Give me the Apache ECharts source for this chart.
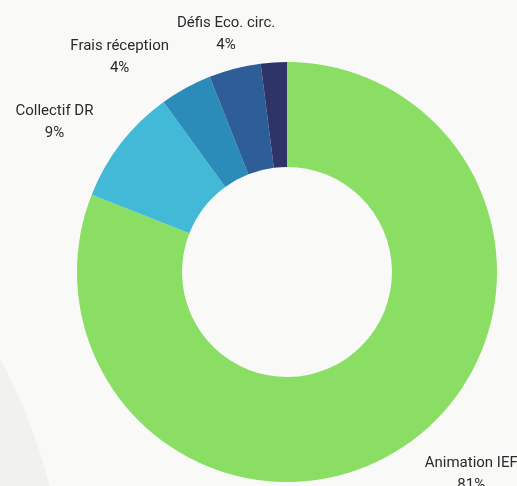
<!DOCTYPE html>
<html>
<head>
<meta charset="utf-8">
<script src="https://cdn.jsdelivr.net/npm/echarts@6/dist/echarts.min.js"></script>
<style>
  html, body { margin: 0; padding: 0; background: #f9f9f8; }
  #chart { width: 517px; height: 486px; }
</style>
</head>
<body>
<div id="chart"></div>
<script>
  // postes de dépenses (sens horaire depuis le haut)
  var names = ['Animation IEF', 'Collectif DR', 'Frais réception', 'Défis Eco. circ.', 'Autres'];
  var values = [81, 9, 4, 4, 2];
  var colors = ['#8ade64', '#41b9d7', '#2b8cba', '#2d5e97', '#2e3368'];
  var showLabel = [true, true, true, true, false];

  var total = values.reduce(function (a, b) { return a + b; }, 0);
  var cx = 287, cy = 272;
  var labelRadius = 245;

  var myChart = echarts.init(document.getElementById('chart'));

  var seriesData = names.map(function (n, i) {
    return {
      name: n,
      value: values[i],
      itemStyle: { color: colors[i] },
      label: { show: showLabel[i] }
    };
  });

  var option = {
    backgroundColor: '#f9f9f8',
    animation: false,
    graphic: [{
      type: 'circle',
      z: -10,
      shape: { cx: -491, cy: 621, r: 557 },
      style: { fill: '#f1f1f0' },
      silent: true
    }],
    series: [{
      type: 'pie',
      center: [cx, cy],
      radius: [105, 210],
      startAngle: 90,
      clockwise: true,
      avoidLabelOverlap: false,
      emphasis: { scale: false },
      label: {
        position: 'outside',
        color: '#2a2a2a',
        fontFamily: 'Roboto',
        fontSize: 15,
        lineHeight: 22,
        align: 'center',
        formatter: function (p) {
          return p.name + '\n' + Math.round(p.percent) + '%';
        }
      },
      labelLine: { show: false },
      labelLayout: function (p) {
        // étiquette posée sur le rayon médian de la part
        var i = p.dataIndex;
        var before = 0;
        for (var j = 0; j < i; j++) before += values[j];
        var mid = (before + values[i] / 2) / total * Math.PI * 2;
        var vx = Math.sin(mid), vy = -Math.cos(mid);
        var w = p.labelRect.width;
        var shift = Math.abs(vx) < 0.3 ? 0 : (vx < 0 ? -w / 2 : w / 2);
        return {
          x: cx + vx * labelRadius + shift,
          y: cy + vy * labelRadius,
          align: 'center',
          verticalAlign: 'middle'
        };
      },
      data: seriesData
    }]
  };

  myChart.setOption(option);
  window.addEventListener('resize', function () {
    myChart.resize();
  });
</script>
</body>
</html>
